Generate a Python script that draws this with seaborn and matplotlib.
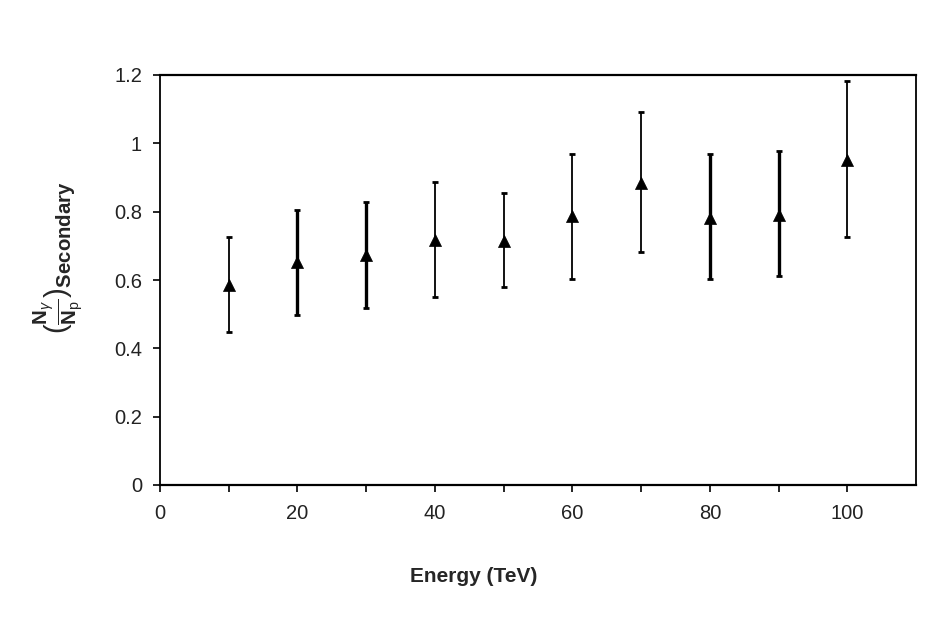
import numpy as np
import pandas as pd
import matplotlib
matplotlib.use("Agg")
import matplotlib.pyplot as plt
import seaborn as sns

# ---- data ----
energy = [10, 20, 30, 40, 50, 60, 70, 80, 90, 100]
ratio = [0.585, 0.654, 0.673, 0.717, 0.714, 0.788, 0.883, 0.782, 0.790, 0.951]
err_upper = [0.727, 0.805, 0.827, 0.887, 0.855, 0.969, 1.093, 0.969, 0.978, 1.181]
err_lower = [0.449, 0.498, 0.517, 0.549, 0.579, 0.603, 0.681, 0.603, 0.612, 0.727]
y_ticks = [0, 0.2, 0.4, 0.6, 0.8, 1.0, 1.2]
y_ticklabels = ["0", "0.2", "0.4", "0.6", "0.8", "1", "1.2"]
x_ticks = [0, 20, 40, 60, 80, 100]
x_ticklabels = ["0", "20", "40", "60", "80", "100"]

# ---- styling ----
sns.set_style("ticks")
plt.rcParams["font.family"] = ["Liberation Sans", "DejaVu Sans"]
plt.rcParams["mathtext.fontset"] = "custom"
plt.rcParams["mathtext.rm"] = "Liberation Sans"
plt.rcParams["mathtext.it"] = "Liberation Sans:italic"
plt.rcParams["mathtext.bf"] = "Liberation Sans:bold"

df = pd.DataFrame({"energy": energy, "ratio": ratio,
                   "up": err_upper, "lo": err_lower})

fig = plt.figure(figsize=(9.5, 6.25), dpi=100)
ax = fig.add_axes([160 / 950, 1 - 485 / 625, (916 - 160) / 950, (485 - 75) / 625])

thick_bars = {20, 30, 80, 90}
for _, r in df.iterrows():
    lw = 2.4 if r["energy"] in thick_bars else 1.3
    ax.errorbar(r["energy"], r["ratio"],
                yerr=[[r["ratio"] - r["lo"]], [r["up"] - r["ratio"]]],
                fmt="none", ecolor="black", elinewidth=lw,
                capsize=2.2, capthick=2.0, zorder=2)

sns.scatterplot(data=df, x="energy", y="ratio", marker="^", s=75,
                color="black", edgecolor="black", linewidth=0.5,
                ax=ax, zorder=3, legend=False)

ax.set_xlim(0, 110)
ax.set_ylim(0, 1.2)
ax.set_xticks(x_ticks)
ax.set_xticklabels(x_ticklabels)
ax.set_xticks(np.arange(10, 110, 20), minor=True)
ax.set_yticks(y_ticks)
ax.set_yticklabels(y_ticklabels)

ax.tick_params(axis="both", which="both", direction="out", color="black",
               labelsize=14.5, labelcolor="#222222")
ax.tick_params(axis="x", which="major", length=5, width=1.2, pad=9)
ax.tick_params(axis="x", which="minor", length=5, width=1.2)
ax.tick_params(axis="y", which="major", length=5, width=1.2, pad=8)

for side, sp in ax.spines.items():
    sp.set_visible(True)
    sp.set_color("black")
    sp.set_linewidth(1.6 if side in ("top", "bottom") else 1.3)

ax.set_xlabel("Energy (TeV)", fontsize=15, fontweight="bold", va="top")
ax.xaxis.set_label_coords(0.415, -0.2)
ax.set_ylabel(r"$(\frac{\mathbf{N}_{\gamma}}{\mathbf{N}_{\mathrm{p}}})_{\mathbf{Secondary}}$",
              fontsize=21)
ax.yaxis.set_label_coords(-0.099, 0.555)

fig.savefig("out.png", dpi=100, facecolor="white")
